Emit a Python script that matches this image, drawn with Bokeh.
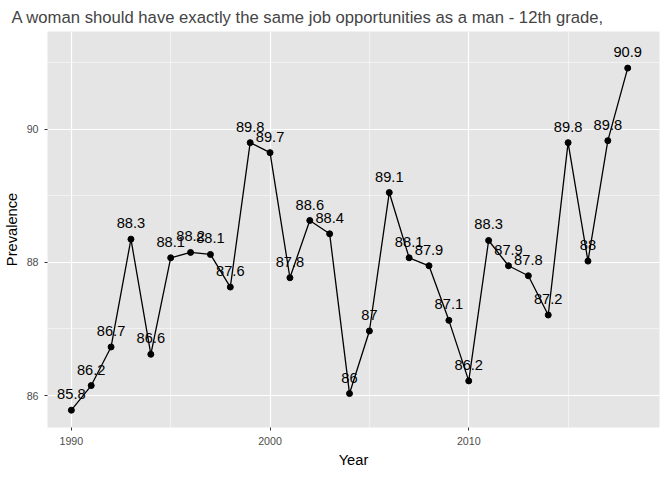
from bokeh.plotting import figure
from bokeh.models import ColumnDataSource, FixedTicker
from bokeh.core.properties import value
from bokeh.embed import file_html
from bokeh.resources import INLINE

years = list(range(1990, 2019))
prevalence = [85.78, 86.15, 86.73, 88.35, 86.62, 88.07, 88.15, 88.12, 87.63, 89.80,
              89.65, 87.77, 88.63, 88.43, 86.03, 86.97, 89.05, 88.07, 87.95, 87.13,
              86.22, 88.33, 87.95, 87.80, 87.21, 89.80, 88.02, 89.83, 90.92]
labels = ["85.8", "86.2", "86.7", "88.3", "86.6", "88.1", "88.2", "88.1", "87.6", "89.8",
          "89.7", "87.8", "88.6", "88.4", "86", "87", "89.1", "88.1", "87.9", "87.1",
          "86.2", "88.3", "87.9", "87.8", "87.2", "89.8", "88", "89.8", "90.9"]

source = ColumnDataSource(dict(x=years, y=prevalence, lab=labels))

p = figure(width=664, height=470, output_backend="svg", toolbar_location=None,
           x_range=(1988.8, 2019.6), y_range=(85.52, 91.47),
           title="A woman should have exactly the same job opportunities as a man - 12th grade,",
           background_fill_color="#e5e5e5", border_fill_color="white",
           min_border_left=40, min_border_right=5, min_border_top=28, min_border_bottom=34)
p.outline_line_color = None
p.title.text_font = "Liberation Sans"
p.title.text_font_size = "12.5pt"
p.title.text_font_style = "normal"
p.title.offset = -36

p.line("x", "y", source=source, line_color="black", line_width=1.3)
p.scatter("x", "y", source=source, size=6, color="black")
p.text("x", "y", text="lab", source=source, text_align="center", text_baseline="bottom",
       y_offset=-11, text_font_size="11pt", text_font=value("Liberation Sans"), text_color="black")

p.xaxis.ticker = FixedTicker(ticks=[1990, 2000, 2010], minor_ticks=[1995, 2005, 2015])
p.yaxis.ticker = FixedTicker(ticks=[86, 88, 90], minor_ticks=[87, 89, 91])
for ax in (p.xaxis[0], p.yaxis[0]):
    ax.axis_line_color = None
    ax.major_tick_line_color = "#333333"
    ax.major_tick_out = 3
    ax.major_tick_in = 0
    ax.minor_tick_line_color = None
    ax.major_label_text_color = "#4d4d4d"
    ax.major_label_text_font_size = "8pt"
    ax.major_label_text_font = "Liberation Sans"
    ax.axis_label_text_font = "Liberation Sans"
    ax.axis_label_text_font_size = "11pt"
    ax.axis_label_text_font_style = "normal"
    ax.axis_label_text_color = "black"
    ax.axis_label_standoff = 4
p.xaxis.axis_label = "Year"
p.yaxis.axis_label = "Prevalence"

for g in (p.xgrid[0], p.ygrid[0]):
    g.grid_line_color = "white"
    g.grid_line_width = 1.2
    g.minor_grid_line_color = "white"
    g.minor_grid_line_width = 0.5

open("out.html", "w").write(file_html(p, INLINE))
